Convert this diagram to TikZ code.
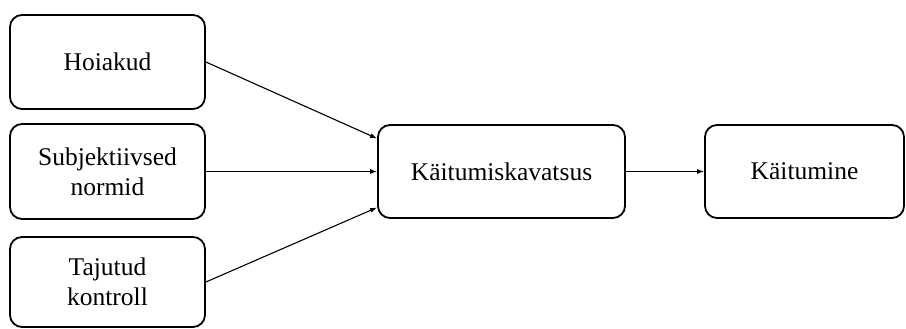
\documentclass[tikz,border=0pt]{standalone}
\usepackage{fontspec}
\setmainfont{Liberation Serif}
\usetikzlibrary{arrows.meta,calc}

\tikzset{
  stagebox/.style={draw=black, line width=1.8pt, rounded corners=12pt,
    inner sep=0pt, align=center, font=\fontsize{25.5}{30}\selectfont},
  flow/.style={draw=black, line width=1.1pt, -{Latex[length=7pt,width=5pt]}}
}

\begin{document}
\begin{tikzpicture}[x=1pt,y=1pt]
  \useasboundingbox (0,0) rectangle (906,329);

  % Determinants of intention (left column)
  \node[stagebox, minimum width=195pt, minimum height=94pt] (att) at (107.5,267) {Hoiakud};
  \node[stagebox, minimum width=195pt, minimum height=95pt] (norm) at (107.5,157.5) {Subjektiivsed\\normid};
  \node[stagebox, minimum width=195pt, minimum height=90pt] (ctrl) at (107.5,47) {Tajutud\\kontroll};

  % Intention and behaviour
  \node[stagebox, minimum width=247pt, minimum height=93pt] (intent) at (501.5,157.5) {Käitumiskavatsus};
  \node[stagebox, minimum width=199pt, minimum height=93pt] (behav) at (804.5,157.5) {Käitumine};

  % Entry points on the intention box
  \coordinate (inTop) at ($(intent.west)+(0,33)$);
  \coordinate (inBot) at ($(intent.west)+(0,-36)$);

  % Connectors
  \draw[flow] (att.east) -- (inTop);
  \draw[flow] (norm.east) -- (intent.west);
  \draw[flow] (ctrl.east) -- (inBot);
  \draw[flow] (intent.east) -- (behav.west);
\end{tikzpicture}
\end{document}
